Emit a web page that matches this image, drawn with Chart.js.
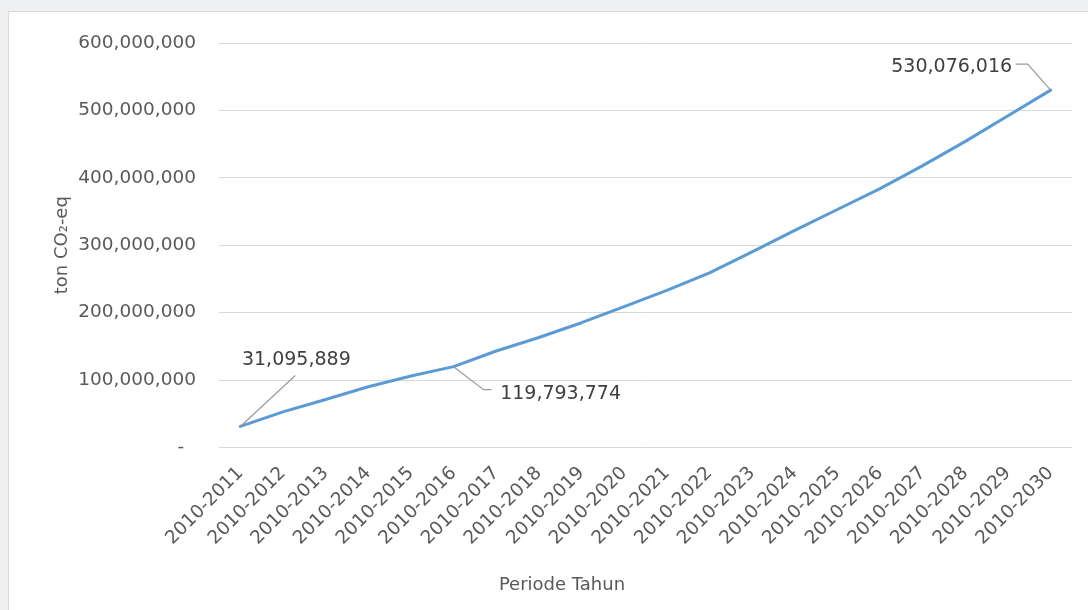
<!DOCTYPE html>
<html lang="id">
<head>
<meta charset="UTF-8" />
<title>Emisi Kumulatif CO2-eq</title>
<script src="https://cdn.jsdelivr.net/npm/chart.js"></script>
<style>
  html, body { margin: 0; padding: 0; background: #eef0f2; overflow: hidden; }
  #panel {
    position: absolute; left: 8px; top: 11px; width: 1116px; height: 600px;
    box-sizing: border-box; background: #fff;
    border-left: 1px solid #d9d9d9; border-top: 1px solid #d9d9d9;
  }
</style>
</head>
<body>
<div id="panel"><canvas id="grafik"></canvas></div>
<script>
// periode kumulatif dan emisi (ton CO2-eq)
const periode = [
  '2010-2011', '2010-2012', '2010-2013', '2010-2014', '2010-2015',
  '2010-2016', '2010-2017', '2010-2018', '2010-2019', '2010-2020',
  '2010-2021', '2010-2022', '2010-2023', '2010-2024', '2010-2025',
  '2010-2026', '2010-2027', '2010-2028', '2010-2029', '2010-2030'
];
const emisi = [
  31095889, 52700000, 71000000, 90000000, 106000000,
  119793774, 143000000, 163000000, 185000000, 209000000,
  233000000, 259000000, 290000000, 322000000, 353000000,
  384000000, 418000000, 454000000, 492000000, 530076016
];
const sumbuMaks = 600000000;
const sumbuLangkah = 100000000;

const FONT = '"DejaVu Sans", sans-serif';
const abu = '#595959';

// titik yang diberi label nilai, dengan garis penunjuk
const labelTitik = [
  { i: 0,  dx: 56,  dy: -66, garis: [[55, -51]] },
  { i: 5,  dx: 107, dy: 27,  garis: [[30, 23], [38, 23]] },
  { i: 19, dx: -99, dy: -23, garis: [[-23, -26], [-35, -26]] }
];

const labelNilai = {
  id: 'labelNilai',
  afterDatasetsDraw(chart) {
    const ctx = chart.ctx;
    const meta = chart.getDatasetMeta(0);
    ctx.save();
    ctx.font = '19px ' + FONT;
    ctx.fillStyle = '#404040';
    ctx.strokeStyle = '#9a9a9a';
    ctx.lineWidth = 1.2;
    ctx.textAlign = 'center';
    ctx.textBaseline = 'middle';
    labelTitik.forEach(l => {
      const p = meta.data[l.i];
      ctx.beginPath();
      ctx.moveTo(p.x, p.y);
      l.garis.forEach(([gx, gy]) => ctx.lineTo(p.x + gx, p.y + gy));
      ctx.stroke();
      ctx.fillText(emisi[l.i].toLocaleString('en-US'), p.x + l.dx, p.y + l.dy);
    });
    ctx.restore();
  }
};

new Chart(document.getElementById('grafik'), {
  type: 'line',
  data: {
    labels: periode,
    datasets: [{
      data: emisi,
      borderColor: '#5b9bd5',
      borderWidth: 3,
      borderCapStyle: 'round',
      borderJoinStyle: 'round',
      pointRadius: 0,
      tension: 0,
      fill: false
    }]
  },
  options: {
    responsive: true,
    maintainAspectRatio: false,
    animation: false,
    layout: { padding: { left: 43, right: 52, top: 31, bottom: 0 } },
    plugins: {
      legend: { display: false },
      tooltip: { enabled: false },
      title: {
        display: true,
        position: 'bottom',
        text: 'Periode Tahun',
        color: abu,
        font: { family: FONT, size: 18, weight: 'normal' },
        padding: { top: 20, bottom: 15 }
      }
    },
    scales: {
      x: {
        offset: true,
        grid: { display: false, drawTicks: false },
        border: { display: false },
        afterFit: s => { s.height = 107; },
        ticks: {
          color: abu,
          font: { family: FONT, size: 18.5 },
          minRotation: 45,
          maxRotation: 45,
          autoSkip: false,
          padding: 15
        }
      },
      y: {
        min: 0,
        max: sumbuMaks,
        grid: { color: '#d9d9d9', lineWidth: 1, drawTicks: false },
        border: { display: false },
        afterFit: s => { s.width = 167; s.paddingTop = 0; s.paddingBottom = 0; },
        ticks: {
          stepSize: sumbuLangkah,
          color: abu,
          font: { family: FONT, size: 18.5 },
          padding: 23,
          callback: v => v === 0 ? '-  ' : v.toLocaleString('en-US')
        },
        title: {
          display: true,
          text: 'ton CO₂-eq',
          color: abu,
          font: { family: FONT, size: 18 },
          padding: { top: 0, bottom: 6 }
        }
      }
    }
  },
  plugins: [labelNilai]
});
</script>
</body>
</html>
